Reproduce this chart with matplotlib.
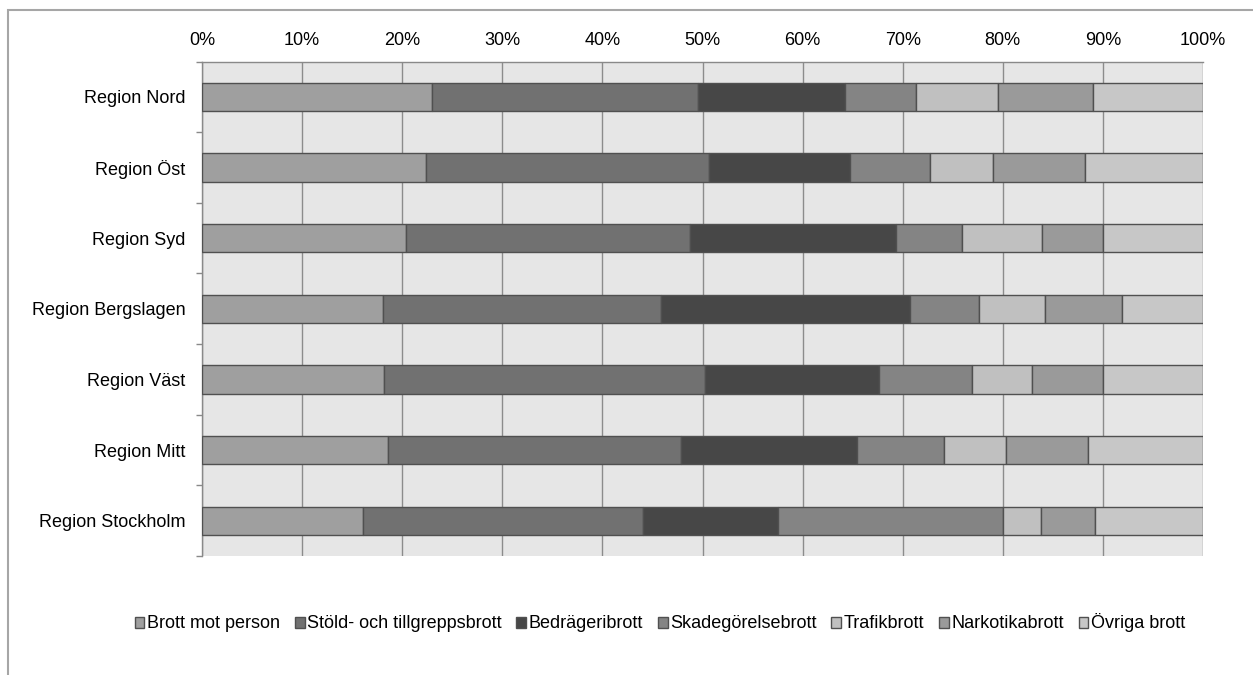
import matplotlib
matplotlib.use('Agg')
import matplotlib.pyplot as plt
import numpy as np
from matplotlib.patches import Rectangle

plt.rcParams['font.family'] = ['Liberation Sans', 'DejaVu Sans']

# regions, top to bottom
regions = ['Region Nord', 'Region Öst', 'Region Syd', 'Region Bergslagen',
           'Region Väst', 'Region Mitt', 'Region Stockholm']
crimes = ['Brott mot person', 'Stöld- och tillgreppsbrott', 'Bedrägeribrott',
          'Skadegörelsebrott', 'Trafikbrott', 'Narkotikabrott', 'Övriga brott']

# share in percent, one list per crime type (same order as regions)
brott_mot_person = [23.0, 22.4, 20.4, 18.1, 18.2, 18.6, 16.1]
stold = [26.6, 28.2, 28.4, 27.8, 32.0, 29.3, 28.0]
bedrageri = [14.6, 14.1, 20.5, 24.8, 17.4, 17.5, 13.4]
skadegorelse = [7.1, 8.0, 6.6, 6.9, 9.3, 8.7, 22.5]
trafik = [8.2, 6.3, 8.0, 6.6, 6.0, 6.2, 3.8]
narkotika = [9.5, 9.2, 6.1, 7.7, 7.1, 8.2, 5.4]
ovriga = [11.0, 11.8, 10.0, 8.1, 10.0, 11.5, 10.8]

colors = ['#9f9f9f', '#717171', '#474747', '#848484', '#c0c0c0', '#9a9a9a', '#c7c7c7']

series = [brott_mot_person, stold, bedrageri, skadegorelse, trafik, narkotika, ovriga]

fig = plt.figure(figsize=(12.53, 6.75), dpi=100)
ax = fig.add_axes([202/1253, 1-556/675, 1001/1253, (556-61.5)/675])
ax.set_facecolor('#e6e6e6')

y = np.arange(len(regions))
left = np.zeros(len(regions))
for vals, name, c in zip(series, crimes, colors):
    vals = np.array(vals)
    ax.barh(y, vals, left=left, height=0.4, color=c, edgecolor='#505050',
            linewidth=1.0, label=name, zorder=3)
    left += vals

ax.set_xlim(0, 100)
ax.set_ylim(len(regions)-0.5, -0.5)
ax.set_xticks(np.arange(0, 101, 10))
ax.set_xticklabels(['%d%%' % v for v in range(0, 101, 10)])
ax.xaxis.tick_top()
ax.tick_params(axis='x', length=0, pad=9, labelsize=13)
ax.set_yticks(y)
ax.set_yticklabels(regions)
ax.tick_params(axis='y', which='major', length=0, pad=12, labelsize=13)
ax.set_yticks(np.arange(-0.5, len(regions), 1), minor=True)
ax.tick_params(axis='y', which='minor', length=4, width=1, color='#898989')
ax.grid(axis='x', color='#8c8c8c', linewidth=1, zorder=1)
ax.set_axisbelow(True)
for s in ['right', 'bottom']:
    ax.spines[s].set_visible(False)
for s in ['left', 'top']:
    ax.spines[s].set_color('#898989')
    ax.spines[s].set_linewidth(1)

fig.legend(loc='center', bbox_to_anchor=(660/1253, 1-623/675), ncol=7,
           frameon=False, fontsize=13, handlelength=0.55, handleheight=0.55,
           handletextpad=0.15, columnspacing=0.8)

# outer chart frame
fig.patches.append(Rectangle((8/1253, -0.2), 1.5, 1.2 - 10/675,
                             transform=fig.transFigure, fill=False,
                             edgecolor='#a6a6a6', linewidth=1.5))

fig.savefig('out.png', dpi=100)
